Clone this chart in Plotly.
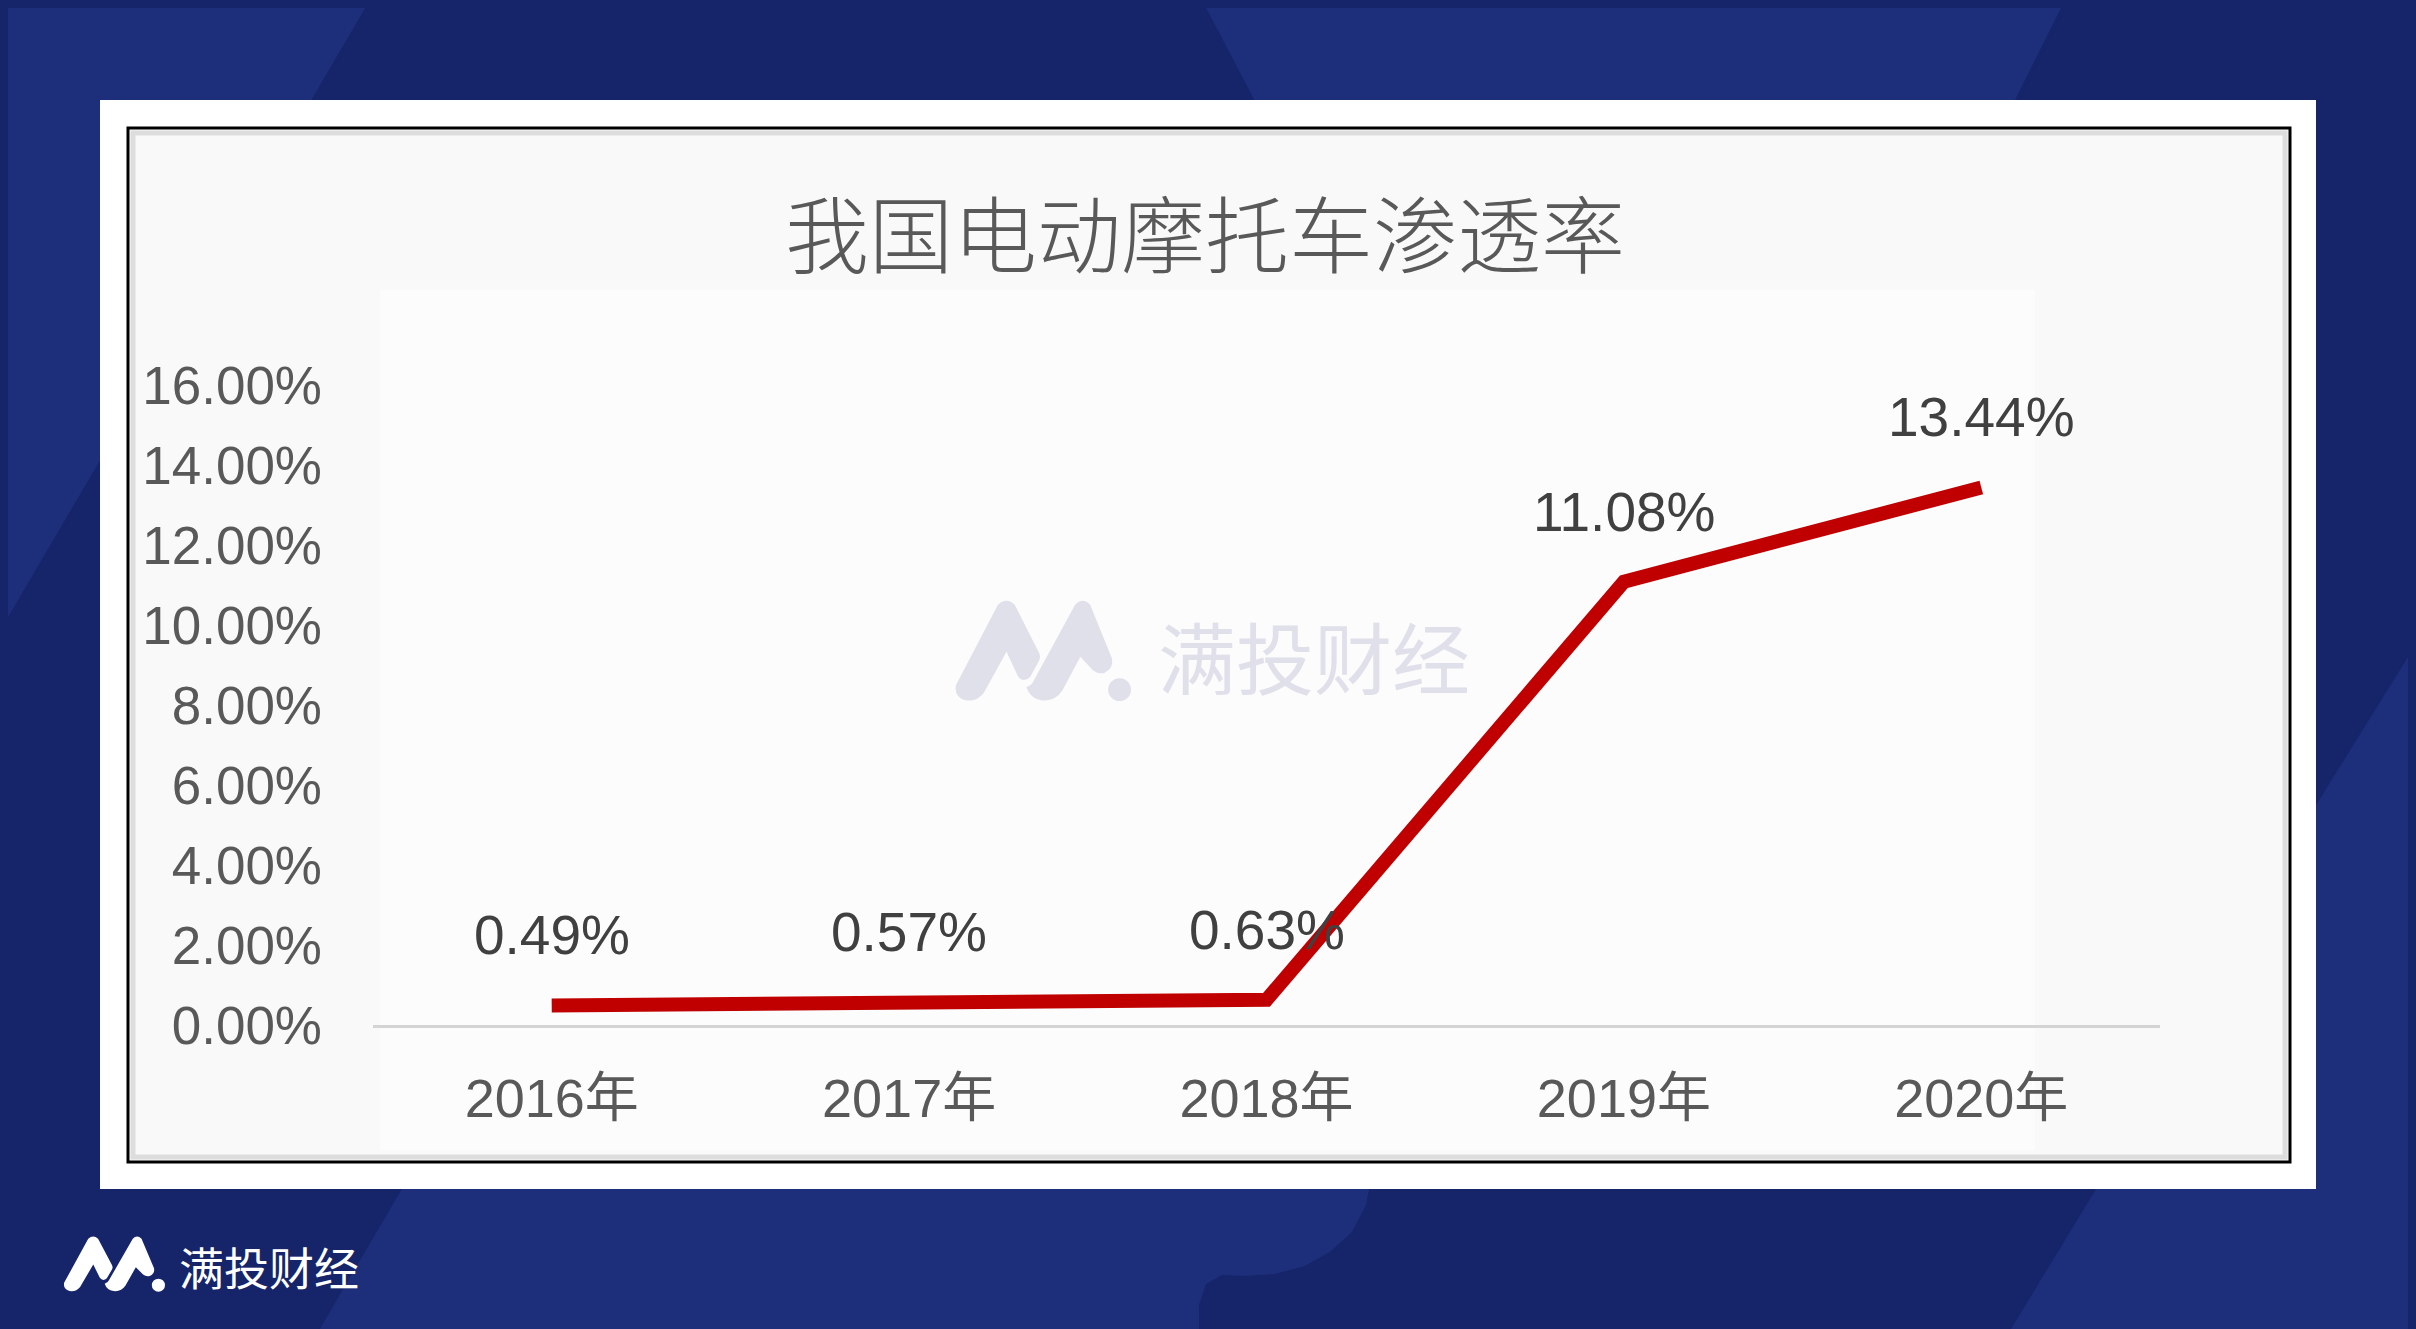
import plotly.graph_objects as go

# ---------------- data ----------------
categories = ["2016年", "2017年", "2018年", "2019年", "2020年"]
penetration = [0.49, 0.57, 0.63, 11.08, 13.44]
y_ticks = [0, 2, 4, 6, 8, 10, 12, 14, 16]
title_text = "我国电动摩托车渗透率"
brand_text = "满投财经"

# ---------------- layout geometry (pixels, page coordinates) ----------------
W, H = 2416, 1329
OFF = 8  # default page body margin in the saved html
PL, PR, PT, PB = 373, 2160, 345, 1025  # plot area in page pixels
L = PL - OFF
T = PT - OFF
R = W - (PR - OFF)
B = H - (PB - OFF)
PW, PH = W - L - R, H - T - B


def px(x):
    return (x - OFF - L) / PW


def py(y):
    return (H - B - (y - OFF)) / PH


def poly(points):
    return "M " + " L ".join(f"{px(x):.5f},{py(y):.5f}" for x, y in points) + " Z"


DARK = "#16246a"
LIGHT = "#1d2e7a"

shapes = []


def add_poly(points, color):
    shapes.append(dict(type="path", xref="paper", yref="paper", path=poly(points),
                       fillcolor=color, line=dict(width=0), layer="below"))


def add_rect(x0, y0, x1, y1, fill=None, line_color=None, lw=0):
    shapes.append(dict(type="rect", xref="paper", yref="paper",
                       x0=px(x0), x1=px(x1), y0=py(y1), y1=py(y0),
                       fillcolor=fill if fill else "rgba(0,0,0,0)",
                       line=dict(width=lw, color=line_color if line_color else "rgba(0,0,0,0)"),
                       layer="below"))


# background
add_rect(0, 0, W + 20, H + 20, fill=DARK)
add_poly([(0, 0), (370, 0), (0, 631)], LIGHT)
add_poly([(1202, 0), (2065, 0), (2000, 130), (1270, 130)], LIGHT)
add_poly([(2436, 612), (2316, 805), (2096, 1189), (2011, 1329), (2436, 1349)], LIGHT)
add_poly([(410, 1175), (1372, 1175), (1366, 1205), (1352, 1232), (1330, 1252), (1305, 1266),
          (1275, 1274), (1245, 1276), (1222, 1275), (1206, 1284), (1199, 1305), (1199, 1349),
          (308, 1349)], LIGHT)

# white card
add_rect(100, 100, 2316, 1189, fill="#ffffff")
# inner framed panel
add_rect(128, 128, 2290, 1162, fill="#f9f9f9", line_color="#000000", lw=3)
add_rect(133, 133, 2285, 1157, line_color="#dddddd", lw=5)
add_rect(380, 290, 2035, 1150, fill="#fcfcfc")


# ---------------- logo path (local reference-like coordinates) ----------------
def logo_shapes(bx0, by0, bx1, by1, color):
    lx0, ly0, lx1, ly1 = 140, 150, 605, 455

    def tr(x, y):
        X = bx0 + (x - lx0) / (lx1 - lx0) * (bx1 - bx0)
        Y = by0 + (y - ly0) / (ly1 - ly0) * (by1 - by0)
        return f"{px(X):.5f},{py(Y):.5f}"

    p1 = ("M " + tr(145, 405) + " L " + tr(255, 165) + " Q " + tr(278, 140) + " " + tr(300, 165)
          + " L " + tr(362, 305) + " Q " + tr(370, 320) + " " + tr(362, 335)
          + " L " + tr(340, 380) + " Q " + tr(322, 400) + " " + tr(308, 378)
          + " L " + tr(278, 305) + " L " + tr(218, 428) + " Q " + tr(200, 455) + " " + tr(170, 450)
          + " Q " + tr(140, 440) + " " + tr(145, 405) + " Z")
    p2 = ("M " + tr(330, 410) + " Q " + tr(345, 405) + " " + tr(350, 390)
          + " L " + tr(458, 165) + " Q " + tr(478, 140) + " " + tr(498, 165)
          + " L " + tr(555, 325) + " Q " + tr(560, 355) + " " + tr(535, 368)
          + " Q " + tr(518, 372) + " " + tr(505, 360)
          + " L " + tr(472, 320) + " L " + tr(425, 420) + " Q " + tr(405, 455) + " " + tr(370, 450)
          + " Q " + tr(340, 445) + " " + tr(330, 410) + " Z")
    out = []
    for p in (p1, p2):
        out.append(dict(type="path", xref="paper", yref="paper", path=p,
                        fillcolor=color, line=dict(width=0), layer="below"))
    cx = bx0 + (575 - lx0) / (lx1 - lx0) * (bx1 - bx0)
    cy = by0 + (418 - ly0) / (ly1 - ly0) * (by1 - by0)
    r = (bx1 - bx0) * 30 / (lx1 - lx0)
    out.append(dict(type="circle", xref="paper", yref="paper",
                    x0=px(cx - r), x1=px(cx + r), y0=py(cy + r), y1=py(cy - r),
                    fillcolor=color, line=dict(width=0), layer="below"))
    return out


shapes += logo_shapes(954, 600, 1131, 702, "#dfe0ea")
shapes += logo_shapes(63, 1236, 165, 1292, "#ffffff")

# ---------------- figure ----------------
fig = go.Figure()
fig.add_trace(go.Scatter(
    x=categories, y=penetration, mode="lines",
    line=dict(color="#c00000", width=14),
    hoverinfo="skip", showlegend=False,
))

annotations = []
for c, v in zip(categories, penetration):
    annotations.append(dict(x=c, y=v, xref="x", yref="y", text=f"{v:.2f}%",
                            showarrow=False, yshift=70,
                            font=dict(family="Liberation Sans, Arial", size=55, color="#404040")))

annotations.append(dict(x=px(1205), y=py(231), xref="paper", yref="paper", text=title_text,
                        showarrow=False, xanchor="center", yanchor="middle",
                        font=dict(family="Noto Sans CJK SC", size=84, color="#595959", weight=300)))
annotations.append(dict(x=px(1314), y=py(655), xref="paper", yref="paper", text=brand_text,
                        showarrow=False, xanchor="center", yanchor="middle",
                        font=dict(family="Noto Sans CJK SC", size=78, color="#dfe0ea")))
annotations.append(dict(x=px(177), y=py(1266), xref="paper", yref="paper", text=brand_text,
                        showarrow=False, xanchor="left", yanchor="middle",
                        font=dict(family="Noto Sans CJK SC", size=45, color="#ffffff")))

fig.update_layout(
    width=W, height=H,
    margin=dict(l=L, r=R, t=T, b=B, autoexpand=False),
    paper_bgcolor=DARK,
    plot_bgcolor="rgba(0,0,0,0)",
    shapes=shapes,
    annotations=annotations,
    showlegend=False,
    xaxis=dict(
        type="category", range=[-0.5, 4.5],
        showgrid=False, zeroline=False,
        showline=True, linecolor="#d4d4d4", linewidth=3,
        ticks="", ticklabelstandoff=24,
        tickfont=dict(family="Liberation Sans, Noto Sans CJK SC", size=54, color="#595959"),
    ),
    yaxis=dict(
        range=[0, 17], tickvals=y_ticks,
        ticktext=[f"{t:.2f}%" for t in y_ticks],
        showgrid=False, zeroline=False, showline=False,
        ticks="", ticklabelstandoff=50,
        tickfont=dict(family="Liberation Sans, Arial", size=53, color="#595959"),
    ),
)

fig.write_html("out.html", post_script="document.body.style.background='#16246a';")
